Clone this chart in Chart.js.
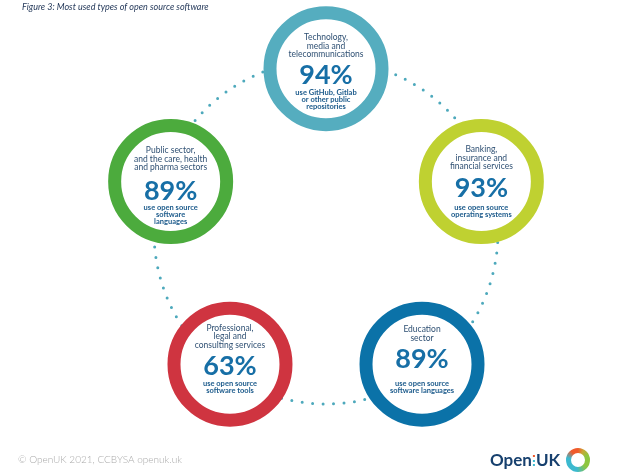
<!DOCTYPE html>
<html>
<head>
<meta charset="utf-8">
<script src="https://cdn.jsdelivr.net/npm/chart.js@4/dist/chart.umd.min.js"></script>
<style>
  html, body { margin: 0; padding: 0; background: #ffffff; }
  #wrap { position: relative; width: 631px; height: 475px; }
</style>
</head>
<body>
<div id="wrap"><canvas id="c"></canvas></div>
<script>
// ---- data ----
const sectors = [
  ["Technology,", "media and", "telecommunications"],
  ["Banking,", "insurance and", "financial services"],
  ["Education", "sector"],
  ["Professional,", "legal and", "consulting services"],
  ["Public sector,", "and the care, health", "and pharma sectors"]
];
const percentages = [94, 93, 89, 63, 89];
const usage = [
  ["use GitHub, Gitlab", "or other public", "repositories"],
  ["use open source", "operating systems"],
  ["use open source", "software languages"],
  ["use open source", "software tools"],
  ["use open source", "software", "languages"]
];
const titleText = "Figure 3: Most used types of open source software";
const footerText = "\u00A9 OpenUK 2021, CCBYSA openuk.uk";

// ---- styles ----
const ringColors = ["#55adbf", "#bfd131", "#0b72a8", "#cf3440", "#4cab3d"];
const dotColor = "#4da9bc";

const dottedCircle = {
  id: 'dottedCircle',
  beforeDatasetsDraw(chart) {
    const s = chart.scales.r;
    const ctx = chart.ctx;
    ctx.save();
    ctx.strokeStyle = dotColor;
    ctx.lineWidth = 3;
    ctx.lineCap = 'round';
    ctx.setLineDash([0, 10.5]);
    ctx.beginPath();
    ctx.arc(s.xCenter, s.yCenter, s.drawingArea, 0, Math.PI * 2);
    ctx.stroke();
    ctx.restore();
  }
};

const ringLabels = {
  id: 'ringLabels',
  afterDatasetsDraw(chart, args, o) {
    const ctx = chart.ctx;
    const pts = chart.getDatasetMeta(0).data;
    pts.forEach((pt, i) => {
      const x = pt.x, y = pt.y;
      const base = y + o.baseline[i];
      ctx.save();
      ctx.textAlign = 'center';
      ctx.textBaseline = 'alphabetic';
      ctx.fillStyle = o.pctColor;
      ctx.font = 'bold 27px Lato';
      ctx.fillText(percentages[i] + '%', x, base);
      ctx.textBaseline = 'middle';
      ctx.font = '8.5px Lato';
      ctx.fillStyle = o.headColor;
      const head = sectors[i];
      const pctTop = base - 19;
      head.forEach((line, k) => {
        ctx.fillText(line, x, pctTop - o.headGap[i] - (head.length - 1 - k) * 8.5);
      });
      ctx.font = 'bold 7.5px Lato';
      ctx.fillStyle = o.subColor;
      usage[i].forEach((line, k) => {
        ctx.fillText(line, x, base + o.subGap[i] + k * 7);
      });
      ctx.restore();
    });
  }
};

const decor = {
  id: 'decor',
  afterDraw(chart) {
    const ctx = chart.ctx;
    ctx.save();
    // title
    ctx.font = 'italic 9px Lato';
    ctx.fillStyle = '#1f3456';
    ctx.textAlign = 'left';
    ctx.textBaseline = 'middle';
    ctx.fillText(titleText, 22, 7);
    // footer
    ctx.font = '300 10px Lato';
    ctx.fillStyle = '#a9a9a9';
    ctx.fillText(footerText, 18, 460);
    // logo text
    ctx.font = 'bold 17px Lato';
    ctx.textBaseline = 'alphabetic';
    ctx.fillStyle = '#17406e';
    let lx = 490;
    ctx.fillText('Open', lx, 466);
    lx += ctx.measureText('Open').width + 1;
    ctx.fillStyle = '#f05a2b';
    ctx.fillRect(lx, 455, 2, 2);
    ctx.fillStyle = '#3cb9cf';
    ctx.fillRect(lx, 460, 2, 2);
    ctx.fillRect(lx, 464, 2, 2);
    lx += 3;
    ctx.fillStyle = '#17406e';
    ctx.fillText('UK', lx, 466);
    // logo ring
    const cx = 578, cy = 460;
    let grad;
    if (ctx.createConicGradient) {
      grad = ctx.createConicGradient(-Math.PI / 2, cx, cy);
      grad.addColorStop(0, '#f05a2b');
      grad.addColorStop(0.08, '#c9a735');
      grad.addColorStop(0.18, '#8dc63f');
      grad.addColorStop(0.36, '#8dc63f');
      grad.addColorStop(0.52, '#3cb9cf');
      grad.addColorStop(0.78, '#3cb9cf');
      grad.addColorStop(0.9, '#f05a2b');
      grad.addColorStop(1, '#f05a2b');
    } else {
      grad = '#3cb9cf';
    }
    ctx.strokeStyle = grad;
    ctx.lineWidth = 5;
    ctx.beginPath();
    ctx.arc(cx, cy, 9.5, 0, Math.PI * 2);
    ctx.stroke();
    ctx.restore();
  }
};

new Chart(document.getElementById('c'), {
  type: 'radar',
  data: {
    labels: sectors.map(l => l.join(' ')),
    datasets: [{
      label: 'Most used types of open source software',
      data: sectors.map(() => 1),
      showLine: false,
      fill: false,
      borderWidth: 0,
      clip: false,
      pointStyle: 'circle',
      pointRadius: 56,
      pointHoverRadius: 56,
      pointBorderWidth: 13,
      pointHoverBorderWidth: 13,
      pointBackgroundColor: '#ffffff',
      pointBorderColor: ringColors
    }]
  },
  options: {
    responsive: true,
    maintainAspectRatio: false,
    animation: false,
    events: [],
    layout: { padding: { left: 154, right: 133, top: 60, bottom: 71 } },
    scales: {
      r: {
        min: 0,
        max: 1.053,
        grid: { display: false },
        angleLines: { display: false },
        ticks: { display: false },
        pointLabels: { display: false }
      }
    },
    plugins: {
      legend: { display: false },
      tooltip: { enabled: false },
      ringLabels: {
        baseline: [15, 15, 4, 11, 18],
        headGap: [10, 11, 11, 11, 13],
        subGap: [9, 11, 15, 8, 8],
        headColor: '#2f5073',
        pctColor: '#176fa6',
        subColor: '#1b5a8b'
      }
    }
  },
  plugins: [dottedCircle, ringLabels, decor]
});
</script>
</body>
</html>
